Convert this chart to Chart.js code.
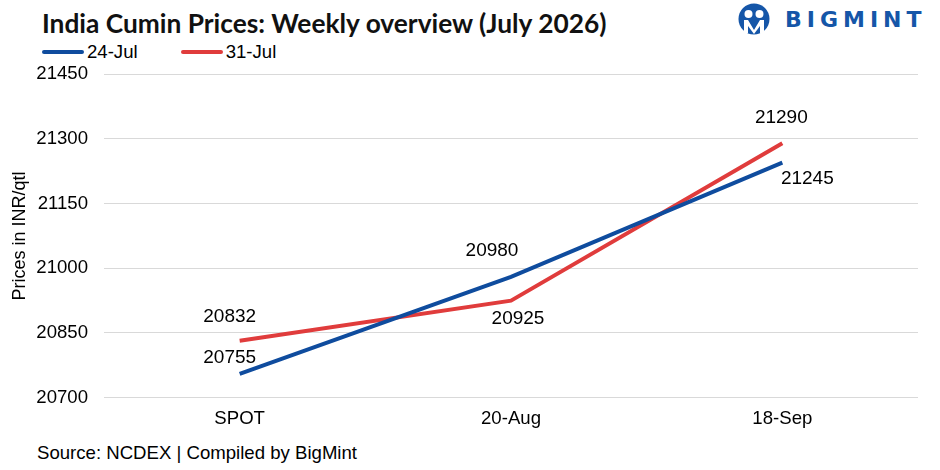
<!DOCTYPE html>
<html lang="en">
<head>
<meta charset="UTF-8">
<title>India Cumin Prices: Weekly overview (July 2026)</title>
<script src="https://cdn.jsdelivr.net/npm/chart.js"></script>
<style>
    html, body { margin: 0; padding: 0; background: #fff; }
    body { width: 940px; height: 470px; position: relative; overflow: hidden; font-family: 'Liberation Sans', Arial, sans-serif; color: #000; }
    .title { position: absolute; left: 42px; top: 7px; font-family: Lato, 'Open Sans', sans-serif; font-weight: 700; font-size: 26.3px; color: #111; }
    .legend { position: absolute; left: 42px; top: 41px; font-size: 18.6px; display: flex; }
    .legend .item { display: flex; align-items: center; margin-right: 43px; }
    .legend .swatch { width: 42px; height: 4px; border-radius: 2px; margin-right: 3px; }
    .source { position: absolute; left: 37px; top: 442px; font-size: 18.6px; }
    .logo { position: absolute; left: 737px; top: 3px; display: flex; align-items: center; }
    .logo-text { font-family: 'DejaVu Sans', sans-serif; font-weight: 700; font-size: 22px; color: #1556a8; letter-spacing: 5px; margin-left: 14px; }
    .chart-box { position: absolute; left: 0; top: 47px; width: 930px; height: 385px; }
</style>
</head>
<body>
    <div class="title">India Cumin Prices: Weekly overview (July 2026)</div>
    <div class="logo">
        <svg width="34" height="32" viewBox="0 0 34 32">
            <circle cx="17" cy="16" r="15.5" fill="#1556a8"/>
            <circle cx="11.5" cy="11" r="4" fill="#fff"/>
            <circle cx="22.5" cy="11" r="4" fill="#fff"/>
            <path d="M7 17 L11 17 L17 27 L23 17 L27 17 L27 30 L23 30 L23 23 L17 31 L11 23 L11 30 L7 30 Z" fill="#fff"/>
        </svg>
        <span class="logo-text">BIGMINT</span>
    </div>
    <div class="legend" id="legend"></div>
    <div class="chart-box"><canvas id="cuminChart"></canvas></div>
    <div class="source">Source: NCDEX | Compiled by BigMint</div>

<script>
    // contracts on the x axis
    const categories = ['SPOT', '20-Aug', '18-Sep'];
    // weekly prices, INR/qtl
    const jul24 = [20755, 20980, 21245];
    const jul31 = [20832, 20925, 21290];
    const seriesNames = ['24-Jul', '31-Jul'];
    const yTicks = [20700, 20850, 21000, 21150, 21300, 21450];

    const blue = '#0f4c9e';
    const red = '#e03c3c';
    const textFont = "'Liberation Sans', Arial, sans-serif";

    // where each value label sits relative to its point (px)
    const labelOffsets = [
        [[-10, -16], [-19, -26], [25, 16]],
        [[-10, -24], [7, 18], [-1, -25]]
    ];

    // legend
    const legendEl = document.getElementById('legend');
    [[seriesNames[0], blue], [seriesNames[1], red]].forEach(([name, col]) => {
        const item = document.createElement('div');
        item.className = 'item';
        item.innerHTML = `<span class="swatch" style="background:${col}"></span><span>${name}</span>`;
        legendEl.appendChild(item);
    });

    const valueLabels = {
        id: 'valueLabels',
        afterDatasetsDraw(chart) {
            const ctx = chart.ctx;
            ctx.save();
            ctx.font = '19px ' + textFont;
            ctx.fillStyle = '#000';
            ctx.textAlign = 'center';
            ctx.textBaseline = 'middle';
            chart.data.datasets.forEach((ds, i) => {
                chart.getDatasetMeta(i).data.forEach((pt, j) => {
                    const off = labelOffsets[i][j];
                    ctx.fillText(String(ds.data[j]), pt.x + off[0], pt.y + off[1]);
                });
            });
            ctx.restore();
        }
    };

    new Chart(document.getElementById('cuminChart'), {
        type: 'line',
        data: {
            labels: categories,
            datasets: [
                { label: seriesNames[0], data: jul24, borderColor: blue, backgroundColor: blue, borderWidth: 4, pointRadius: 0, tension: 0 },
                { label: seriesNames[1], data: jul31, borderColor: red, backgroundColor: red, borderWidth: 4, pointRadius: 0, tension: 0 }
            ]
        },
        options: {
            responsive: true,
            maintainAspectRatio: false,
            animation: false,
            layout: { padding: { top: 11, right: 12, left: 9, bottom: 0 } },
            plugins: {
                legend: { display: false },
                tooltip: { enabled: false }
            },
            scales: {
                x: {
                    offset: true,
                    grid: { display: false },
                    border: { display: false },
                    ticks: { color: '#000', font: { family: textFont, size: 18.6 }, padding: 2 }
                },
                y: {
                    min: yTicks[0],
                    max: yTicks[yTicks.length - 1],
                    afterBuildTicks: (scale) => { scale.ticks = yTicks.map(v => ({ value: v })); },
                    afterFit: (scale) => { scale.width = 95; },
                    grid: { color: '#d9d9d9', lineWidth: 1, drawTicks: false },
                    border: { display: false },
                    ticks: { color: '#000', font: { family: textFont, size: 18.6 }, padding: 16, callback: (v) => String(v) },
                    title: { display: true, text: 'Prices in INR/qtl', color: '#000', font: { family: textFont, size: 18 }, padding: { top: 0, bottom: 4 } }
                }
            }
        },
        plugins: [valueLabels]
    });
</script>
</body>
</html>
